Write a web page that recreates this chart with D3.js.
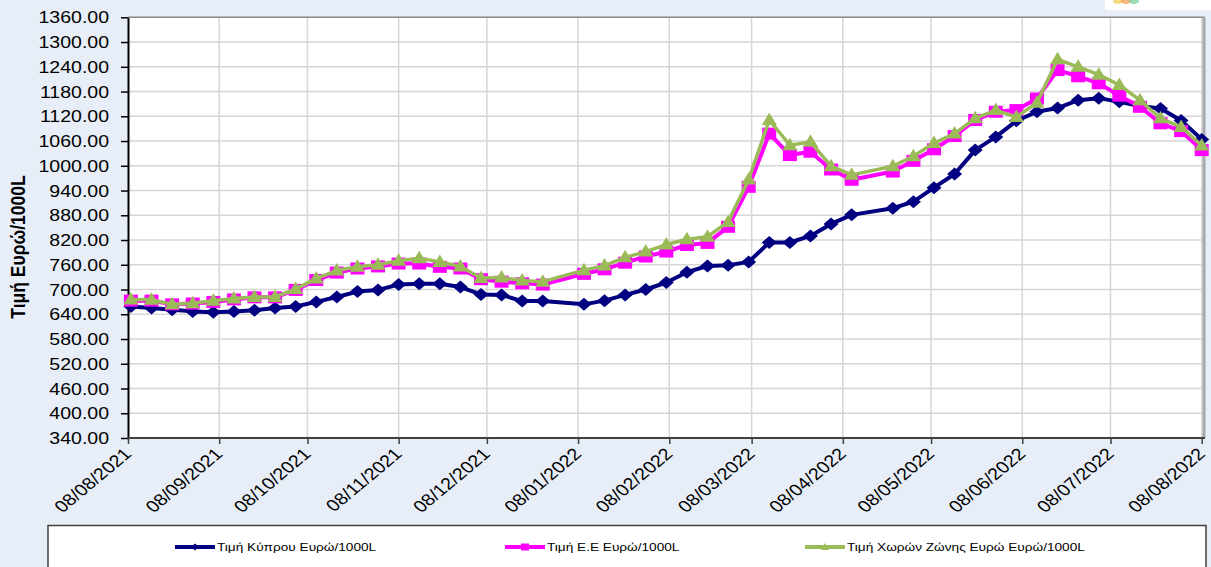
<!DOCTYPE html>
<html>
<head>
<meta charset="utf-8">
<script src="https://cdn.jsdelivr.net/npm/d3@7/dist/d3.min.js"></script>
<style>
  body { margin: 0; background: #e8eef7; }
  svg { display: block; font-family: "Liberation Sans", Arial, sans-serif; }
</style>
</head>
<body>
<svg id="chart" width="1211" height="567"></svg>
<script>
// weekly price readings (Monday), 03/01 and 18/04 have no entry
const weeks = [
  "09/08/2021", "16/08/2021", "23/08/2021", "30/08/2021",
  "06/09/2021", "13/09/2021", "20/09/2021", "27/09/2021",
  "04/10/2021", "11/10/2021", "18/10/2021", "25/10/2021",
  "01/11/2021", "08/11/2021", "15/11/2021", "22/11/2021", "29/11/2021",
  "06/12/2021", "13/12/2021", "20/12/2021", "27/12/2021",
  "10/01/2022", "17/01/2022", "24/01/2022", "31/01/2022",
  "07/02/2022", "14/02/2022", "21/02/2022", "28/02/2022",
  "07/03/2022", "14/03/2022", "21/03/2022", "28/03/2022",
  "04/04/2022", "11/04/2022", "25/04/2022",
  "02/05/2022", "09/05/2022", "16/05/2022", "23/05/2022", "30/05/2022",
  "06/06/2022", "13/06/2022", "20/06/2022", "27/06/2022",
  "04/07/2022", "11/07/2022", "18/07/2022", "25/07/2022",
  "01/08/2022", "08/08/2022"
];

const cyprusPrice = [
  659, 655, 651, 647,
  645, 647, 650, 655,
  659, 670, 682, 695,
  699, 712, 714, 714, 706,
  688, 687, 672, 672,
  664, 673, 687, 700,
  717, 742, 757, 759,
  767, 814, 814, 830,
  859, 881, 897,
  913, 947, 980, 1038, 1070,
  1109, 1131, 1140, 1159,
  1164, 1155, 1145, 1139,
  1110, 1064
];

const euPrice = [
  673, 673, 664, 666,
  670, 676, 681, 681,
  699, 723, 741, 751,
  756, 763, 763, 755, 751,
  725, 719, 715, 712,
  738, 749, 765, 780,
  792, 808, 813, 852,
  949, 1078, 1026, 1034,
  991, 966, 986,
  1012, 1040, 1072, 1111, 1131,
  1135, 1163, 1232, 1217,
  1200, 1170, 1143, 1103,
  1084, 1038
];

const euroZonePrice = [
  676, 675, 664, 667,
  673, 678, 682, 682,
  701, 727, 746, 755,
  760, 770, 776, 767, 756,
  728, 729, 722, 719,
  747, 758, 778, 792,
  809, 822, 828, 864,
  967, 1111, 1050, 1058,
  999, 978, 999,
  1023, 1055, 1078, 1115, 1135,
  1118, 1153, 1258, 1240,
  1221, 1196, 1159, 1115,
  1094, 1049
];

const seriesNames = [
  "Τιμή Κύπρου Ευρώ/1000L",
  "Τιμή Ε.Ε Ευρώ/1000L",
  "Τιμή Χωρών Ζώνης Ευρώ Ευρώ/1000L"
];
const seriesColors = ["#000080", "#ff00ff", "#9bbb59"];

const yTicks = [340, 400, 460, 520, 580, 640, 700, 760, 820, 880, 940, 1000,
  1060, 1120, 1180, 1240, 1300, 1360];
const xTickLabels = [
  "08/08/2021", "08/09/2021", "08/10/2021", "08/11/2021", "08/12/2021",
  "08/01/2022", "08/02/2022", "08/03/2022", "08/04/2022", "08/05/2022",
  "08/06/2022", "08/07/2022", "08/08/2022"
];
const yTitle = "Τιμή Ευρώ/1000L";

// text in the picture is drawn a bit wider than normal
const SX = 1.22;

const parse = d3.timeParse("%d/%m/%Y");
const svg = d3.select("#chart");

const plotL = 128, plotR = 1201.7, plotT = 17.3, plotB = 438;
const x = d3.scaleTime()
  .domain([parse(xTickLabels[0]), parse(xTickLabels[xTickLabels.length - 1])])
  .range([plotL, plotR]);
const y = d3.scaleLinear().domain([340, 1360]).range([plotB, plotT]);

// plot area
svg.append("rect")
  .attr("x", plotL).attr("y", plotT)
  .attr("width", 1204 - plotL).attr("height", plotB - plotT)
  .attr("fill", "white");

// grid
svg.append("g").selectAll("line")
  .data(yTicks.slice(1))
  .join("line")
  .attr("x1", plotL).attr("x2", 1203)
  .attr("y1", d => y(d)).attr("y2", d => y(d))
  .attr("stroke", "#d6d6d6").attr("stroke-width", 1.5);

svg.append("g").selectAll("line")
  .data(xTickLabels.slice(1))
  .join("line")
  .attr("x1", d => x(parse(d))).attr("x2", d => x(parse(d)))
  .attr("y1", plotT).attr("y2", plotB)
  .attr("stroke", "#d6d6d6").attr("stroke-width", 1.5);

// frame top / right
svg.append("line")
  .attr("x1", plotL).attr("x2", 1205).attr("y1", plotT).attr("y2", plotT)
  .attr("stroke", "#8c8c8c").attr("stroke-width", 1.5);
svg.append("line")
  .attr("x1", 1204).attr("x2", 1204).attr("y1", plotT).attr("y2", plotB)
  .attr("stroke", "#a8a8a8").attr("stroke-width", 3);

// y axis
const yAxis = svg.append("g")
  .attr("transform", `translate(${plotL},0)`)
  .call(d3.axisLeft(y).tickValues(yTicks).tickFormat(d3.format(".2f")).tickSize(7).tickSizeOuter(0));
yAxis.select(".domain").attr("stroke", "#000").attr("stroke-width", 2);
yAxis.selectAll(".tick line").attr("stroke", "#000").attr("stroke-width", 1.5);
yAxis.selectAll(".tick text")
  .attr("x", 0).attr("dy", null).attr("y", 0)
  .attr("transform", `translate(-19,5.6) scale(${SX},1)`)
  .attr("font-size", 16).attr("fill", "#000")
  .attr("font-family", "Liberation Sans, Arial, sans-serif");

// x axis
const xAxis = svg.append("g")
  .attr("transform", `translate(0,${plotB})`)
  .call(d3.axisBottom(x).tickValues(xTickLabels.map(parse))
    .tickFormat(d3.timeFormat("%d/%m/%Y")).tickSize(6).tickSizeOuter(0));
xAxis.select(".domain").attr("stroke", "#404040").attr("stroke-width", 2)
  .attr("d", `M${plotL},0H1205`);
xAxis.selectAll(".tick line").attr("stroke", "#404040").attr("stroke-width", 1.5);
xAxis.selectAll(".tick text")
  .attr("x", 0).attr("y", 0).attr("dy", null)
  .attr("text-anchor", "end")
  .attr("transform", `translate(4,17) scale(1.2,1) rotate(-45)`)
  .attr("font-size", 16.5).attr("fill", "#000")
  .attr("font-family", "Liberation Sans, Arial, sans-serif");

// y title
svg.append("text")
  .attr("transform", `translate(25,247) scale(1.2,1) rotate(-90)`)
  .attr("text-anchor", "middle")
  .attr("font-size", 17.5).attr("font-weight", "bold")
  .text(yTitle);

// series
const dates = weeks.map(parse);
const series = [cyprusPrice, euPrice, euroZonePrice].map((vals, i) => ({
  name: seriesNames[i],
  color: seriesColors[i],
  points: vals.map((v, j) => ({ date: dates[j], v: v }))
}));

const markerPath = [
  "M0,-6.5L7.5,0L0,6.5L-7.5,0Z",
  "M-7,-6H7V6H-7Z",
  "M0,-7.5L7.5,5L-7.5,5Z"
];
const lineWidth = [4, 4, 3.5];

const line = d3.line().x(d => x(d.date)).y(d => y(d.v));

series.forEach((s, i) => {
  const g = svg.append("g");
  g.append("path")
    .datum(s.points)
    .attr("d", line)
    .attr("fill", "none")
    .attr("stroke", s.color)
    .attr("stroke-width", lineWidth[i])
    .attr("stroke-linejoin", "round");
  g.selectAll("path.m")
    .data(s.points)
    .join("path")
    .attr("class", "m")
    .attr("d", markerPath[i])
    .attr("transform", d => `translate(${x(d.date)},${y(d.v)})`)
    .attr("fill", s.color);
});

// legend
svg.append("rect")
  .attr("x", 48).attr("y", 525.5)
  .attr("width", 1158).attr("height", 60)
  .attr("fill", "white").attr("stroke", "#404040").attr("stroke-width", 1.5);

const legendX = [175, 505, 805];
const smallMarker = [
  "M0,-3.5L4,0L0,3.5L-4,0Z",
  "M-4,-3.5H4V3.5H-4Z",
  "M0,-4L4,3L-4,3Z"
];
series.forEach((s, i) => {
  const g = svg.append("g").attr("transform", `translate(${legendX[i]},547)`);
  g.append("line").attr("x1", 0).attr("x2", 40).attr("y1", 0).attr("y2", 0)
    .attr("stroke", s.color).attr("stroke-width", 4);
  g.append("path").attr("d", smallMarker[i])
    .attr("transform", "translate(20,0)").attr("fill", s.color);
  g.append("text")
    .attr("transform", `translate(42,3.8) scale(1.3,1)`)
    .attr("font-size", 10.5).attr("fill", "#000")
    .text(s.name);
});

// cropped logo in top right corner
svg.append("rect").attr("x", 1105).attr("y", 0).attr("width", 106).attr("height", 10)
  .attr("fill", "white");
[["#f2c94c", 1118], ["#f2994a", 1126], ["#6fcf97", 1134]].forEach(c => {
  svg.append("ellipse").attr("cx", c[1]).attr("cy", 1).attr("rx", 5).attr("ry", 3)
    .attr("fill", c[0]).attr("opacity", 0.7);
});
</script>
</body>
</html>
